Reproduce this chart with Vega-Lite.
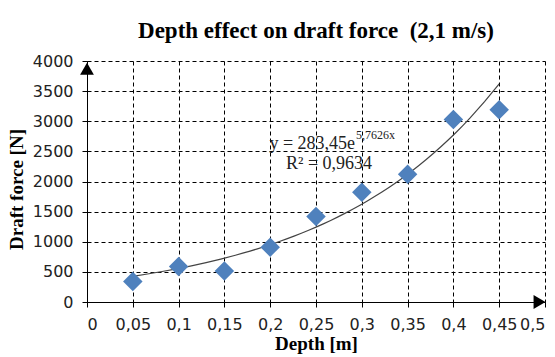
{
  "$schema": "https://vega.github.io/schema/vega-lite/v6.json",
  "width": 458,
  "height": 241,
  "autosize": "none",
  "padding": {"left": 87, "top": 61, "right": 10, "bottom": 55},
  "background": "white",
  "title": {
    "text": "Depth effect on draft force \u00a0(2,1 m/s)",
    "font": "Liberation Serif",
    "fontSize": 23,
    "fontWeight": "bold",
    "color": "black",
    "anchor": "middle",
    "offset": 10
  },
  "config": {
    "view": {"stroke": null},
    "axis": {
      "domainColor": "black",
      "domainWidth": 1,
      "tickColor": "black",
      "tickSize": 5,
      "gridColor": "black",
      "gridDash": [4, 3],
      "gridWidth": 1,
      "gridOpacity": 1,
      "labelFont": "DejaVu Sans",
      "labelFontSize": 16,
      "labelColor": "#222222",
      "labelPadding": 9,
      "titleFont": "Liberation Serif",
      "titleFontSize": 19,
      "titleFontWeight": "bold",
      "titleColor": "black"
    }
  },
  "datasets": {
    "points": [
      {"depth": 0.05, "force": 340},
      {"depth": 0.1, "force": 590},
      {"depth": 0.15, "force": 515},
      {"depth": 0.2, "force": 910},
      {"depth": 0.25, "force": 1420},
      {"depth": 0.3, "force": 1820},
      {"depth": 0.35, "force": 2120},
      {"depth": 0.4, "force": 3030},
      {"depth": 0.45, "force": 3190}
    ],
    "arrows": [
      {"depth": 0, "force": 3870, "shape": "triangle-up"},
      {"depth": 0.494, "force": 0, "shape": "triangle-right"}
    ],
    "eq": [{"depth": 0.2926, "force": 2540, "label": "y = 283,45e"}],
    "sup": [{"depth": 0.2937, "force": 2700, "label": "5,7626x"}],
    "r2": [{"depth": 0.2642, "force": 2207, "label": "R² = 0,9634"}]
  },
  "encoding": {
    "x": {
      "field": "depth",
      "type": "quantitative",
      "scale": {"domain": [0, 0.5], "nice": false, "zero": false},
      "axis": {
        "title": "Depth [m]",
        "values": [0, 0.05, 0.1, 0.15, 0.2, 0.25, 0.3, 0.35, 0.4, 0.45, 0.5],
        "labelExpr": "replace(format(datum.value, '~g'), '.', ',')",
        "labelOverlap": false,
        "titlePadding": 2
      }
    },
    "y": {
      "field": "force",
      "type": "quantitative",
      "scale": {"domain": [0, 4000], "nice": false},
      "axis": {
        "title": "Draft force [N]",
        "values": [0, 500, 1000, 1500, 2000, 2500, 3000, 3500, 4000],
        "format": "d",
        "labelOverlap": false,
        "titlePadding": 6,
        "titleY": 128
      }
    }
  },
  "layer": [
    {
      "data": {"name": "points"},
      "transform": [
        {"regression": "force", "on": "depth", "method": "exp", "extent": [0.05, 0.45]}
      ],
      "mark": {"type": "line", "color": "#444444", "strokeWidth": 1.2}
    },
    {
      "data": {"name": "points"},
      "mark": {"type": "point", "shape": "diamond", "filled": true, "size": 380, "color": "#4F81BD", "opacity": 1}
    },
    {
      "data": {"name": "arrows"},
      "mark": {"type": "point", "filled": true, "size": 190, "color": "black", "opacity": 1},
      "encoding": {"shape": {"field": "shape", "type": "nominal", "scale": null}}
    },
    {
      "data": {"name": "eq"},
      "mark": {"type": "text", "font": "Liberation Serif", "fontSize": 18, "align": "right", "baseline": "alphabetic", "color": "#222222"},
      "encoding": {"text": {"field": "label"}}
    },
    {
      "data": {"name": "sup"},
      "mark": {"type": "text", "font": "Liberation Serif", "fontSize": 12, "align": "left", "baseline": "alphabetic", "color": "#222222"},
      "encoding": {"text": {"field": "label"}}
    },
    {
      "data": {"name": "r2"},
      "mark": {"type": "text", "font": "Liberation Serif", "fontSize": 18, "align": "center", "baseline": "alphabetic", "color": "#222222"},
      "encoding": {"text": {"field": "label"}}
    }
  ]
}
